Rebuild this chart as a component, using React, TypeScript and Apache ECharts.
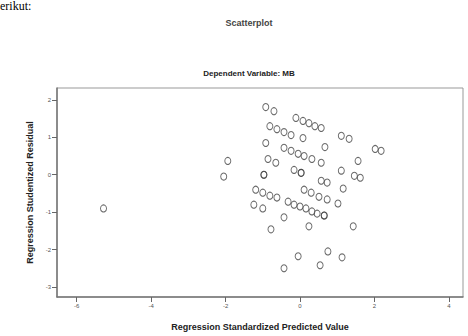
import React, { useEffect, useRef } from "react";
import * as echarts from "echarts";

const chartTitle = "Scatterplot";
const chartSubtitle = "Dependent Variable: MB";
const xAxisName = "Regression Standardized Predicted Value";
const yAxisName = "Regression Studentized Residual";
const xTicks = [-6, -4, -2, 0, 2, 4];
const yTicks = [-3, -2, -1, 0, 1, 2];

// predicted values (x) and studentized residuals (y)
const predicted = [
  -5.28, -1.94, -2.05, -0.92, -0.7, -0.11, 0.08, 0.24, 0.4, 0.57,
  1.11, 1.32, 2.02, 2.18, -0.81, -0.62, -0.43, -0.24, 0.08, -0.92,
  -0.43, -0.24, -0.05, 0.11, 0.32, 0.57, 0.67, 1.56, -0.86, -0.65,
  -0.97, -0.97, -0.16, 0.03, 0.03, 1.11, 1.46, 1.62, 0.57, 0.73,
  1.16, -1.19, -1.0, -0.81, -0.62, 0.11, 0.3, 0.51, 0.73, 1.02,
  -1.24, -1.0, -0.32, -0.16, 0.0, 0.16, 0.32, 0.46, 0.65, 0.65,
  -0.43, -0.78, 0.24, 1.43, 0.75, -0.05, 1.13, -0.43, 0.54,
];
const residual = [
  -0.9, 0.37, -0.05, 1.81, 1.7, 1.52, 1.44, 1.38, 1.3, 1.25,
  1.04, 0.96, 0.69, 0.64, 1.3, 1.22, 1.14, 1.06, 0.98, 0.85,
  0.72, 0.64, 0.56, 0.5, 0.42, 0.32, 0.74, 0.37, 0.42, 0.32,
  0.0, 0.0, 0.13, 0.05, 0.05, 0.11, -0.03, -0.08, -0.16, -0.21,
  -0.37, -0.4, -0.48, -0.56, -0.61, -0.4, -0.48, -0.59, -0.66, -0.77,
  -0.8, -0.9, -0.72, -0.8, -0.85, -0.9, -0.98, -1.04, -1.09, -1.09,
  -1.14, -1.46, -1.38, -1.38, -2.05, -2.18, -2.21, -2.5, -2.42,
];

export default function App() {
  const ref = useRef<HTMLDivElement>(null);
  useEffect(() => {
    if (!ref.current) return;
    const chart = echarts.init(ref.current, null, { renderer: "svg" });
    const data = predicted.map((x, i) => [x, residual[i]]);
    const font = "'Liberation Sans', Arial, sans-serif";
    chart.setOption({
      animation: false,
      backgroundColor: "#fff",
      title: [
        {
          text: chartTitle,
          left: 244,
          top: 13,
          textAlign: "center",
          textStyle: { fontSize: 9, fontWeight: "bold", color: "#444", fontFamily: font },
        },
        {
          text: chartSubtitle,
          left: 244,
          top: 64,
          textAlign: "center",
          textStyle: { fontSize: 8, fontWeight: "bold", color: "#222", fontFamily: font },
        },
      ],
      graphic: [
        {
          type: "text",
          left: 0,
          top: 0,
          style: { text: "erikut:", fontSize: 12, fill: "#000", fontFamily: "'Liberation Serif', 'Times New Roman', serif" },
        },
      ],
      grid: { left: 57, top: 88, right: 5, bottom: 38, show: true, borderColor: "#999", borderWidth: 1 },
      xAxis: {
        type: "value",
        min: -6.53,
        max: 4.38,
        name: xAxisName,
        nameLocation: "middle",
        nameGap: 25,
        nameTextStyle: { fontSize: 9, fontWeight: "bold", color: "#222", fontFamily: font },
        axisLine: { show: true, onZero: false, lineStyle: { color: "#777", width: 1.5 } },
        axisTick: { show: true, length: 5, customValues: xTicks, lineStyle: { color: "#666" } },
        axisLabel: { fontSize: 6, color: "#555", margin: 6, fontFamily: font, customValues: xTicks, showMinLabel: true, showMaxLabel: true },
        splitLine: { show: false },
      },
      yAxis: {
        type: "value",
        min: -3.27,
        max: 2.32,
        name: yAxisName,
        nameLocation: "middle",
        nameGap: 22,
        nameTextStyle: { fontSize: 9, fontWeight: "bold", color: "#222", fontFamily: font },
        axisLine: { show: true, onZero: false, lineStyle: { color: "#777", width: 1.5 } },
        axisTick: { show: true, length: 5, customValues: yTicks, lineStyle: { color: "#666" } },
        axisLabel: { fontSize: 6, color: "#555", margin: 6, fontFamily: font, customValues: yTicks, showMinLabel: true, showMaxLabel: true },
        splitLine: { show: false },
      },
      series: [
        {
          type: "scatter",
          data,
          symbol: "circle",
          symbolSize: [6, 7],
          itemStyle: { color: "rgba(0,0,0,0)", borderColor: "#444", borderWidth: 1 },
        },
      ],
    });
    return () => chart.dispose();
  }, []);
  return <div ref={ref} style={{ width: 468, height: 336, position: "absolute", left: 0, top: 0 }} />;
}
